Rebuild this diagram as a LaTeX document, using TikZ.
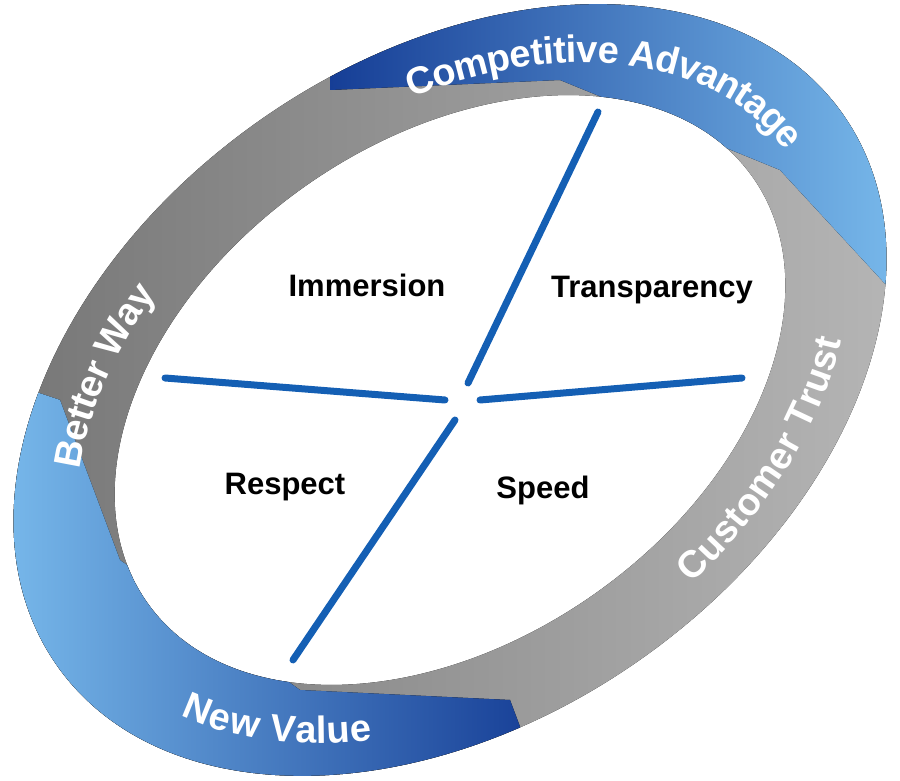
\documentclass[tikz,border=0pt]{standalone}
\usepackage{fontspec}
\setmainfont{Liberation Sans}
\usetikzlibrary{decorations.text}
\definecolor{ringblue}{RGB}{22,62,150}
\definecolor{skyblue}{RGB}{120,185,235}
\definecolor{crossblue}{RGB}{20,95,180}
\tikzset{
  quad/.style={font=\bfseries\fontsize{31}{32}\selectfont, text=black},
  cross/.style={line width=7pt, crossblue, line cap=round},
  ringtext/.style={decorate, decoration={text along path, text align=center, raise=-13pt,
    text={|\bfseries\fontsize{38}{40}\selectfont\color{white}|#1}}}
}
\begin{document}
\begin{tikzpicture}[x=1pt,y=1pt]
\useasboundingbox (0,0) rectangle (900,780);
% ring band
\begin{scope}[shift={(450,390)}, rotate=35, even odd rule]
\fill[left color=gray!90!black, right color=gray!55]
  (0,0) ellipse [x radius=480, y radius=330] (0,0) ellipse [x radius=370, y radius=250];
\clip (0,0) ellipse [x radius=480, y radius=330] (0,0) ellipse [x radius=370, y radius=250];
\begin{scope}[rotate=-35, shift={(-450,-390)}]
\fill[left color=ringblue, right color=skyblue] (330,780) -- (900,780) -- (900,480) -- (780,610) -- (560,700) -- (330,690) -- cycle;
\fill[left color=skyblue, right color=ringblue] (0,400) -- (0,0) -- (540,0) -- (510,80) -- (300,90) -- (120,220) -- (60,380) -- cycle;
\end{scope}
\end{scope}
% ring labels
\begin{scope}[shift={(450,390)}, rotate=35]
\path[ringtext={Competitive Advantage}] (0,0) ++(75:425 and 290) arc [start angle=75, end angle=-5, x radius=425, y radius=290];
\path[ringtext={Customer Trust}] (0,0) ++(-95:425 and 290) arc [start angle=-95, end angle=-15, x radius=425, y radius=290];
\path[ringtext={Better Way}] (0,0) ++(172:425 and 290) arc [start angle=172, end angle=98, x radius=425, y radius=290];
\path[ringtext={New Value}] (0,0) ++(185:425 and 290) arc [start angle=185, end angle=245, x radius=425, y radius=290];
\end{scope}
% cross
\draw[cross] (598,668) -- (468,397);
\draw[cross] (165,402) -- (445,380);
\draw[cross] (480,380) -- (742,402);
\draw[cross] (455,360) -- (293,120);
% quadrants
\node[quad] (immersion) at (367,495) {Immersion};
\node[quad] (transparency) at (652,490) {Transparency};
\node[quad] (respect) at (285,293) {Respect};
\node[quad] (speed) at (543,290) {Speed};
\end{tikzpicture}
\end{document}
